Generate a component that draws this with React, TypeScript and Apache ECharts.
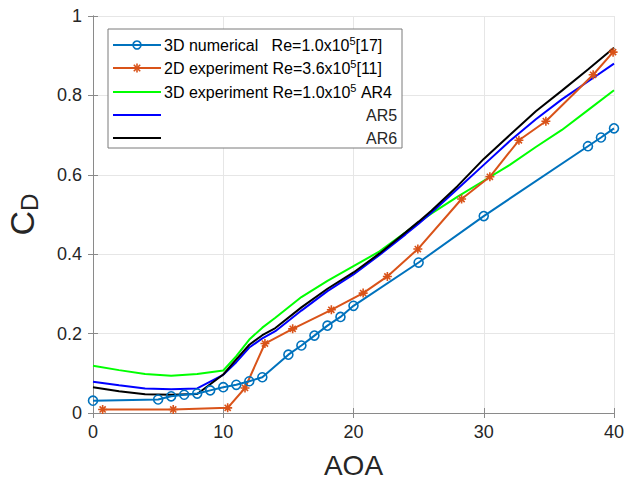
import React, { useEffect, useRef } from "react";
import * as echarts from "echarts";

// 3D numerical, Re=1.0x10^5 [17]
const aoaNumerical = [0, 5, 6, 7, 8, 9, 10, 11, 12, 13, 15, 16, 17, 18, 19, 20, 25, 30, 38, 39, 40];
const cdNumerical = [0.031, 0.034, 0.042, 0.046, 0.049, 0.057, 0.065, 0.071, 0.08, 0.09, 0.147, 0.17, 0.195, 0.22, 0.242, 0.27, 0.379, 0.496, 0.672, 0.694, 0.717];

// 2D experiment, Re=3.6x10^5 [11]
const aoa2D = [0.74, 6.16, 10.34, 11.67, 13.2, 15.33, 18.3, 20.74, 22.6, 24.94, 28.3, 30.47, 32.7, 34.77, 38.4, 39.93];
const cd2D = [0.009, 0.009, 0.013, 0.063, 0.175, 0.212, 0.26, 0.302, 0.344, 0.413, 0.539, 0.595, 0.687, 0.735, 0.852, 0.909];

// 3D experiment, Re=1.0x10^5, aspect ratios 4, 5 and 6
const aoaExp = [0, 2, 4, 6, 8, 10, 11, 12, 13, 14, 16, 18, 20, 22, 24, 25, 26, 28, 30, 32, 34, 36, 38, 40];
const cdAR4 = [0.119, 0.108, 0.098, 0.094, 0.098, 0.107, 0.143, 0.185, 0.215, 0.24, 0.292, 0.333, 0.37, 0.407, 0.455, 0.48, 0.503, 0.545, 0.585, 0.625, 0.67, 0.713, 0.763, 0.813];
const cdAR5 = [0.079, 0.07, 0.062, 0.06, 0.062, 0.096, 0.128, 0.165, 0.188, 0.206, 0.258, 0.307, 0.349, 0.398, 0.45, 0.477, 0.505, 0.565, 0.625, 0.685, 0.74, 0.79, 0.835, 0.88];
const cdAR6 = [0.065, 0.055, 0.047, 0.046, 0.048, 0.097, 0.135, 0.172, 0.196, 0.214, 0.266, 0.313, 0.354, 0.402, 0.455, 0.482, 0.51, 0.572, 0.64, 0.7, 0.76, 0.812, 0.865, 0.92];

const xTicks = [0, 10, 20, 30, 40];
const yTicks = [0, 0.2, 0.4, 0.6, 0.8, 1];

const FONT = "'Liberation Sans', Arial, sans-serif";
const TEXT = "#262626";
const FRAME = "#8a8a8a";
const C_NUM = "#0072BD";
const C_2D = "#D95319";
const C_AR4 = "#00FF00";
const C_AR5 = "#0000FF";
const C_AR6 = "#000000";

const asterisk = "path://M5,0L5,10M0,5L10,5M1.6,1.6L8.4,8.4M1.6,8.4L8.4,1.6";

const pairs = (xs: number[], ys: number[]) => xs.map((x, i) => [x, ys[i]]);

export default function App() {
  const ref = useRef<HTMLDivElement>(null);

  useEffect(() => {
    if (!ref.current) return;
    const chart = echarts.init(ref.current, undefined, { renderer: "svg" });

    const axisCommon = {
      type: "value" as const,
      axisLine: { show: true, lineStyle: { color: FRAME, width: 1 } },
      axisTick: { show: true, inside: true, length: 5, lineStyle: { color: FRAME } },
    };

    const legendX0 = 113;
    const legendX1 = 161;
    const rows = [45, 68, 92, 115, 138];
    const rich = {
      t: { fontSize: 16, fontFamily: FONT, color: TEXT, lineHeight: 19 },
      s: { fontSize: 11, fontFamily: FONT, color: TEXT, verticalAlign: "top", lineHeight: 19, padding: [0, 0, 8, 0] },
    };
    const Z = 100;
    const legendLine = (y: number, color: string) => ({
      type: "line",
      z: Z,
      shape: { x1: legendX0, y1: y, x2: legendX1, y2: y },
      style: { stroke: color, lineWidth: 2 },
    });

    const expSeries = (name: string, ys: number[], color: string, z: number) => ({
      name,
      type: "line",
      data: pairs(aoaExp, ys),
      smooth: false,
      showSymbol: false,
      lineStyle: { color, width: 2 },
      z,
    });

    chart.setOption({
      animation: false,
      backgroundColor: "#ffffff",
      grid: { left: 93, right: 13, top: 16, bottom: 70, outerBoundsMode: "none", containLabel: false },
      xAxis: [
        {
          ...axisCommon,
          min: 0,
          max: 40,
          interval: 10,
          name: "AOA",
          nameLocation: "middle",
          nameGap: 38,
          nameTextStyle: { fontSize: 28, fontFamily: FONT, color: TEXT },
          axisLabel: {
            fontSize: 18,
            fontFamily: FONT,
            color: TEXT,
            margin: 10,
            formatter: (v: number) => (xTicks.includes(v) ? String(v) : ""),
          },
          splitLine: { show: true, lineStyle: { color: "#e6e6e6", width: 1 } },
        },
        {
          ...axisCommon,
          position: "top",
          min: 0,
          max: 40,
          interval: 10,
          axisLabel: { show: false },
          splitLine: { show: false },
        },
      ],
      yAxis: [
        {
          ...axisCommon,
          min: 0,
          max: 1,
          interval: 0.2,
          name: "{c|C}{d|D}",
          nameLocation: "middle",
          nameRotate: 90,
          nameGap: 52,
          nameTextStyle: {
            rich: {
              c: { fontSize: 34, fontFamily: FONT, color: TEXT, lineHeight: 38 },
              d: { fontSize: 24, fontFamily: FONT, color: TEXT, lineHeight: 38, verticalAlign: "bottom", padding: [14, 0, 0, 0] },
            },
          },
          axisLabel: {
            fontSize: 18,
            fontFamily: FONT,
            color: TEXT,
            margin: 11,
            formatter: (v: number) => {
              const hit = yTicks.find((t) => Math.abs(t - v) < 1e-9);
              return hit === undefined ? "" : String(hit);
            },
          },
          splitLine: { show: true, lineStyle: { color: "#e6e6e6", width: 1 } },
        },
        {
          ...axisCommon,
          position: "right",
          min: 0,
          max: 1,
          interval: 0.2,
          axisLabel: { show: false },
          splitLine: { show: false },
        },
      ],
      series: [
        expSeries("AR4", cdAR4, C_AR4, 2),
        expSeries("AR5", cdAR5, C_AR5, 3),
        expSeries("AR6", cdAR6, C_AR6, 4),
        {
          name: "2D experiment",
          type: "line",
          data: pairs(aoa2D, cd2D),
          symbol: asterisk,
          symbolSize: 9,
          lineStyle: { color: C_2D, width: 2 },
          itemStyle: { color: C_2D, borderColor: C_2D, borderWidth: 1.6 },
          z: 5,
        },
        {
          name: "3D numerical",
          type: "line",
          data: pairs(aoaNumerical, cdNumerical),
          symbol: "circle",
          symbolSize: 9,
          lineStyle: { color: C_NUM, width: 2 },
          itemStyle: { color: "rgba(0,0,0,0)", borderColor: C_NUM, borderWidth: 1.6 },
          z: 6,
        },
      ],
      graphic: [
        {
          type: "rect",
          z: Z - 1,
          shape: { x: 108, y: 29, width: 294, height: 119 },
          style: { fill: "#ffffff", stroke: "#7a7a7a", lineWidth: 1 },
        },
        legendLine(rows[0], C_NUM),
        { type: "circle", z: Z, shape: { cx: 137, cy: rows[0], r: 4 }, style: { fill: "none", stroke: C_NUM, lineWidth: 1.6 } },
        legendLine(rows[1], C_2D),
        { type: "line", z: Z, shape: { x1: 137, y1: rows[1] - 4.5, x2: 137, y2: rows[1] + 4.5 }, style: { stroke: C_2D, lineWidth: 1.6 } },
        { type: "line", z: Z, shape: { x1: 132.5, y1: rows[1], x2: 141.5, y2: rows[1] }, style: { stroke: C_2D, lineWidth: 1.6 } },
        { type: "line", z: Z, shape: { x1: 133.8, y1: rows[1] - 3.2, x2: 140.2, y2: rows[1] + 3.2 }, style: { stroke: C_2D, lineWidth: 1.6 } },
        { type: "line", z: Z, shape: { x1: 133.8, y1: rows[1] + 3.2, x2: 140.2, y2: rows[1] - 3.2 }, style: { stroke: C_2D, lineWidth: 1.6 } },
        legendLine(rows[2], C_AR4),
        legendLine(rows[3], C_AR5),
        legendLine(rows[4], C_AR6),
        {
          type: "text",
          z: Z,
          x: 164,
          y: rows[0],
          style: { text: "{t|3D numerical\u00a0\u00a0\u00a0Re=1.0x10}{s|5}{t|[17]}", rich, verticalAlign: "middle" },
        },
        {
          type: "text",
          z: Z,
          x: 164,
          y: rows[1],
          style: { text: "{t|2D experiment Re=3.6x10}{s|5}{t|[11]}", rich, verticalAlign: "middle" },
        },
        {
          type: "text",
          z: Z,
          x: 164,
          y: rows[2],
          style: { text: "{t|3D experiment Re=1.0x10}{s|5}{t|\u00a0AR4}", rich, verticalAlign: "middle" },
        },
        {
          type: "text",
          z: Z,
          x: 366,
          y: rows[3],
          style: { text: "AR5", fontSize: 16, fontFamily: FONT, fill: TEXT, verticalAlign: "middle" },
        },
        {
          type: "text",
          z: Z,
          x: 366,
          y: rows[4],
          style: { text: "AR6", fontSize: 16, fontFamily: FONT, fill: TEXT, verticalAlign: "middle" },
        },
      ],
    });

    return () => chart.dispose();
  }, []);

  return (
    <div
      ref={ref}
      style={{ position: "fixed", left: 0, top: 0, width: 627, height: 483, background: "#fff" }}
    />
  );
}
